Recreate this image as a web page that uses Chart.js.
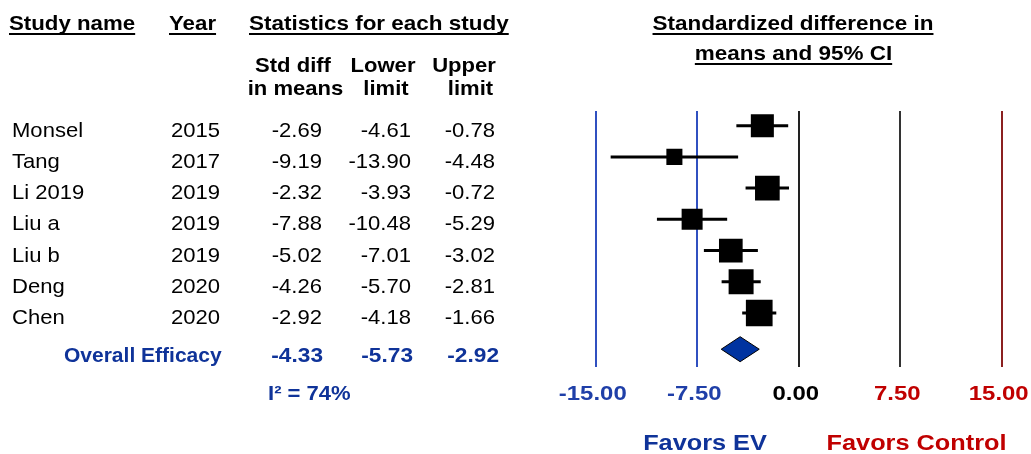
<!DOCTYPE html>
<html>
<head>
<meta charset="utf-8">
<script src="https://cdn.jsdelivr.net/npm/chart.js@4.4.1/dist/chart.umd.min.js"></script>
<style>
  body { margin: 0; background: #fff; }
  #wrap { width: 1031px; height: 454px; }
</style>
</head>
<body>
<div id="wrap"><canvas id="forest" width="1031" height="454"></canvas></div>
<script>
// Dados do forest plot
const studies   = ['Monsel', 'Tang', 'Li 2019', 'Liu a', 'Liu b', 'Deng', 'Chen'];
const years     = ['2015', '2017', '2019', '2019', '2019', '2020', '2020'];
const stdDiff   = [-2.69, -9.19, -2.32, -7.88, -5.02, -4.26, -2.92];
const lowerLim  = [-4.61, -13.90, -3.93, -10.48, -7.01, -5.70, -4.18];
const upperLim  = [-0.78, -4.48, -0.72, -5.29, -3.02, -2.81, -1.66];
const weights   = [14.2, 6.9, 16.3, 11.8, 15.0, 16.7, 19.1];   // peso relativo (%)

const overallLabel  = 'Overall Efficacy';
const overallValues = [-4.33, -5.73, -2.92];   // estimativa, inferior, superior
const heterogeneity = 'I\u00B2 = 74%';

const xTicks      = [-15, -7.5, 0, 7.5, 15];
const tickColors  = ['#1f3fa8', '#1f3fa8', '#000000', '#c00000', '#c00000'];
const lineColors  = ['#3050c0', '#3050c0', '#222222', '#333333', '#8b2020'];
const OVERALL_ROW = 7.16;

const BLUE = '#0f3399';
const FONT = '"Liberation Sans", Arial, sans-serif';

// texto com esticamento horizontal (a figura original é mais larga que Arial)
function txt(ctx, s, x, y, o = {}) {
  ctx.save();
  ctx.font = `${o.bold ? 'bold ' : ''}${o.size || 21}px ${FONT}`;
  ctx.fillStyle = o.color || '#000';
  ctx.textBaseline = 'alphabetic';
  const sx = o.sx || 1.05;
  const w = ctx.measureText(s).width * sx;
  let left = x;
  if (o.align === 'center') left = x - w / 2;
  if (o.align === 'right')  left = x - w;
  ctx.translate(left, y);
  ctx.scale(sx, 1);
  ctx.fillText(s, 0, 0);
  ctx.restore();
  if (o.underline) {
    ctx.save();
    ctx.fillStyle = o.color || '#000';
    ctx.fillRect(left, y + 3, w, 2);
    ctx.restore();
  }
}

// Linhas do IC (antes dos quadrados)
const ciLines = {
  id: 'ciLines',
  beforeDatasetsDraw(chart) {
    const { ctx, scales: { x, y } } = chart;
    ctx.save();
    ctx.strokeStyle = '#000';
    ctx.lineWidth = 3;
    studies.forEach((_, i) => {
      const py = y.getPixelForValue(i);
      ctx.beginPath();
      ctx.moveTo(x.getPixelForValue(lowerLim[i]), py);
      ctx.lineTo(x.getPixelForValue(upperLim[i]), py);
      ctx.stroke();
    });
    ctx.restore();
  }
};

// Diamante do efeito global
const diamond = {
  id: 'diamond',
  afterDatasetsDraw(chart) {
    const { ctx, scales: { x, y } } = chart;
    const [est, lo, hi] = overallValues;
    const py = y.getPixelForValue(OVERALL_ROW);
    const h = 12.5;
    ctx.save();
    ctx.beginPath();
    ctx.moveTo(x.getPixelForValue(lo), py);
    ctx.lineTo(x.getPixelForValue(est), py - h);
    ctx.lineTo(x.getPixelForValue(hi), py);
    ctx.lineTo(x.getPixelForValue(est), py + h);
    ctx.closePath();
    ctx.fillStyle = '#0033a0';
    ctx.fill();
    ctx.strokeStyle = '#000';
    ctx.lineWidth = 1;
    ctx.stroke();
    ctx.restore();
  }
};

// Tabela, cabeçalhos e rótulos do eixo
const tableText = {
  id: 'tableText',
  afterDraw(chart) {
    const { ctx, scales: { x, y } } = chart;

    // cabeçalhos
    txt(ctx, 'Study name', 9, 30, { bold: true, sx: 1.06, underline: true });
    txt(ctx, 'Year', 169, 30, { bold: true, sx: 1.06, underline: true });
    txt(ctx, 'Statistics for each study', 249, 30, { bold: true, sx: 1.07, underline: true });
    txt(ctx, 'Standardized difference in', 793, 30, { bold: true, sx: 1.07, align: 'center', underline: true });
    txt(ctx, 'means and 95% CI', 793.5, 60, { bold: true, sx: 1.07, align: 'center', underline: true });

    txt(ctx, 'Std diff', 293, 72, { bold: true, align: 'center' });
    txt(ctx, 'in means', 295.5, 95, { bold: true, align: 'center' });
    txt(ctx, 'Lower', 383, 72, { bold: true, align: 'center' });
    txt(ctx, 'limit', 386, 95, { bold: true, align: 'center' });
    txt(ctx, 'Upper', 464, 72, { bold: true, align: 'center' });
    txt(ctx, 'limit', 470.5, 95, { bold: true, align: 'center' });

    // linhas dos estudos
    studies.forEach((name, i) => {
      const by = y.getPixelForValue(i) + 11;
      txt(ctx, name, 12, by);
      txt(ctx, years[i], 171, by);
      txt(ctx, stdDiff[i].toFixed(2), 322, by, { align: 'right' });
      txt(ctx, lowerLim[i].toFixed(2), 411, by, { align: 'right' });
      txt(ctx, upperLim[i].toFixed(2), 495, by, { align: 'right' });
    });

    // linha global
    const oy = y.getPixelForValue(OVERALL_ROW) + 12.5;
    txt(ctx, overallLabel, 64, oy, { bold: true, color: BLUE, sx: 1.0 });
    [323, 413, 499].forEach((rx, k) => {
      txt(ctx, overallValues[k].toFixed(2), rx, oy, { bold: true, color: BLUE, align: 'right', sx: 1.08 });
    });
    txt(ctx, heterogeneity, 268, 400, { bold: true, color: BLUE, sx: 1.05 });

    // rótulos do eixo x
    xTicks.forEach((v, k) => {
      txt(ctx, v.toFixed(2), x.getPixelForValue(v) - 3, 400,
        { bold: true, size: 21, sx: 1.14, color: tickColors[k], align: 'center' });
    });

    txt(ctx, 'Favors EV', 705, 450, { bold: true, size: 22, sx: 1.15, color: BLUE, align: 'center' });
    txt(ctx, 'Favors Control', 916.5, 450, { bold: true, size: 22, sx: 1.15, color: '#c00000', align: 'center' });
  }
};

new Chart(document.getElementById('forest').getContext('2d'), {
  type: 'scatter',
  data: {
    datasets: [{
      data: stdDiff.map((v, i) => ({ x: v, y: i })),
      pointStyle: 'rect',
      backgroundColor: '#000',
      borderColor: '#000',
      borderWidth: 0,
      pointRadius: c => 6.11 * Math.sqrt(weights[c.dataIndex]) / Math.SQRT2,
      pointHoverRadius: c => 6.11 * Math.sqrt(weights[c.dataIndex]) / Math.SQRT2
    }]
  },
  options: {
    responsive: false,
    animation: false,
    devicePixelRatio: 1,
    layout: { padding: { left: 589, right: 22.5, top: 111, bottom: 87.3 } },
    plugins: { legend: { display: false }, tooltip: { enabled: false } },
    scales: {
      x: {
        type: 'linear',
        min: -15.5,
        max: 15.5,
        afterBuildTicks: s => { s.ticks = xTicks.map(v => ({ value: v })); },
        ticks: { display: false },
        border: { display: false },
        grid: {
          drawTicks: false,
          lineWidth: 2,
          color: c => lineColors[xTicks.indexOf(c.tick?.value)] || 'transparent'
        }
      },
      y: {
        type: 'linear',
        reverse: true,
        min: -0.47,
        max: 7.72,
        display: false
      }
    }
  },
  plugins: [ciLines, diamond, tableText]
});
</script>
</body>
</html>
